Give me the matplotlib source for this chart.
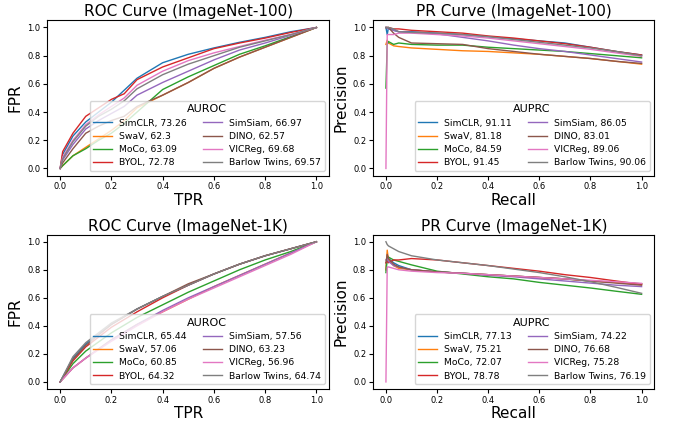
import matplotlib
matplotlib.use('Agg')
import matplotlib.pyplot as plt

methods = ['SimCLR', 'SwaV', 'MoCo', 'BYOL', 'SimSiam', 'DINO', 'VICReg', 'Barlow Twins']
colors = ['tab:blue', 'tab:orange', 'tab:green', 'tab:red', 'tab:purple', 'tab:brown', 'tab:pink', 'tab:gray']

auroc_100 = [73.26, 62.3, 63.09, 72.78, 66.97, 62.57, 69.68, 69.57]
auprc_100 = [91.11, 81.18, 84.59, 91.45, 86.05, 83.01, 89.06, 90.06]
auroc_1k = [65.44, 57.06, 60.85, 64.32, 57.56, 63.23, 56.96, 64.74]
auprc_1k = [77.13, 75.21, 72.07, 78.78, 74.22, 76.68, 75.28, 76.19]

# ROC ImageNet-100
roc100_x = [0, 0.01, 0.05, 0.1, 0.15, 0.2, 0.25, 0.3, 0.4, 0.5, 0.6, 0.7, 0.8, 0.9, 1.0]
roc100_y = [
    [0, 0.10, 0.23, 0.33, 0.40, 0.47, 0.555, 0.64, 0.75, 0.81, 0.855, 0.895, 0.93, 0.97, 1.0],
    [0, 0.02, 0.09, 0.15, 0.21, 0.27, 0.34, 0.43, 0.52, 0.61, 0.71, 0.79, 0.86, 0.93, 1.0],
    [0, 0.02, 0.09, 0.14, 0.20, 0.25, 0.32, 0.40, 0.56, 0.65, 0.73, 0.81, 0.87, 0.935, 1.0],
    [0, 0.12, 0.25, 0.37, 0.43, 0.49, 0.53, 0.63, 0.72, 0.785, 0.85, 0.89, 0.925, 0.965, 1.0],
    [0, 0.06, 0.17, 0.28, 0.34, 0.39, 0.44, 0.52, 0.61, 0.69, 0.77, 0.84, 0.89, 0.945, 1.0],
    [0, 0.04, 0.14, 0.25, 0.30, 0.34, 0.37, 0.44, 0.52, 0.61, 0.71, 0.79, 0.86, 0.93, 1.0],
    [0, 0.08, 0.20, 0.31, 0.38, 0.44, 0.50, 0.59, 0.69, 0.765, 0.82, 0.865, 0.91, 0.95, 1.0],
    [0, 0.07, 0.19, 0.30, 0.37, 0.42, 0.48, 0.565, 0.665, 0.74, 0.80, 0.86, 0.905, 0.95, 1.0],
]

# PR ImageNet-100
pr100_x = [0, 0.005, 0.01, 0.03, 0.05, 0.1, 0.2, 0.3, 0.4, 0.5, 0.6, 0.7, 0.8, 0.9, 1.0]
pr100_y = [
    [1.0, 0.95, 1.0, 0.98, 0.97, 0.97, 0.96, 0.95, 0.935, 0.92, 0.905, 0.89, 0.86, 0.83, 0.805],
    [0.88, 0.91, 0.89, 0.87, 0.865, 0.855, 0.845, 0.835, 0.83, 0.82, 0.81, 0.795, 0.78, 0.76, 0.74],
    [0.57, 0.88, 0.9, 0.88, 0.89, 0.88, 0.875, 0.875, 0.86, 0.85, 0.84, 0.83, 0.815, 0.80, 0.785],
    [1.0, 1.0, 1.0, 0.99, 0.99, 0.98, 0.97, 0.96, 0.94, 0.925, 0.905, 0.885, 0.86, 0.83, 0.805],
    [1.0, 1.0, 0.99, 0.98, 0.97, 0.965, 0.955, 0.93, 0.905, 0.875, 0.85, 0.83, 0.805, 0.78, 0.755],
    [1.0, 1.0, 1.0, 0.96, 0.93, 0.89, 0.885, 0.88, 0.85, 0.83, 0.81, 0.795, 0.78, 0.76, 0.745],
    [0.0, 0.95, 0.95, 0.95, 0.96, 0.96, 0.95, 0.94, 0.925, 0.905, 0.885, 0.865, 0.845, 0.82, 0.795],
    [1.0, 1.0, 1.0, 0.99, 0.97, 0.965, 0.96, 0.95, 0.935, 0.915, 0.895, 0.875, 0.855, 0.83, 0.80],
]

# ROC ImageNet-1K
roc1k_x = [0, 0.05, 0.1, 0.2, 0.3, 0.4, 0.5, 0.6, 0.7, 0.8, 0.9, 1.0]
roc1k_y = [
    [0, 0.17, 0.27, 0.41, 0.52, 0.61, 0.69, 0.77, 0.84, 0.9, 0.95, 1.0],
    [0, 0.1, 0.17, 0.3, 0.41, 0.5, 0.59, 0.68, 0.76, 0.84, 0.92, 1.0],
    [0, 0.13, 0.22, 0.35, 0.46, 0.55, 0.64, 0.72, 0.8, 0.87, 0.93, 1.0],
    [0, 0.15, 0.25, 0.39, 0.5, 0.6, 0.69, 0.77, 0.84, 0.9, 0.95, 1.0],
    [0, 0.1, 0.17, 0.3, 0.41, 0.51, 0.6, 0.68, 0.76, 0.84, 0.92, 1.0],
    [0, 0.16, 0.26, 0.41, 0.52, 0.61, 0.7, 0.77, 0.84, 0.9, 0.95, 1.0],
    [0, 0.1, 0.17, 0.29, 0.4, 0.5, 0.59, 0.67, 0.75, 0.83, 0.91, 1.0],
    [0, 0.18, 0.28, 0.42, 0.52, 0.61, 0.69, 0.77, 0.84, 0.9, 0.95, 1.0],
]

# PR ImageNet-1K
pr1k_x = [0, 0.005, 0.01, 0.03, 0.05, 0.1, 0.2, 0.3, 0.4, 0.5, 0.6, 0.7, 0.8, 0.9, 1.0]
pr1k_y = [
    [0.8, 0.9, 0.88, 0.85, 0.83, 0.8, 0.785, 0.775, 0.765, 0.755, 0.745, 0.735, 0.72, 0.71, 0.70],
    [0.8, 0.94, 0.87, 0.83, 0.81, 0.8, 0.785, 0.775, 0.765, 0.755, 0.745, 0.735, 0.72, 0.71, 0.70],
    [0.78, 0.88, 0.89, 0.87, 0.86, 0.835, 0.79, 0.77, 0.75, 0.735, 0.71, 0.69, 0.67, 0.647, 0.625],
    [0.85, 0.86, 0.85, 0.87, 0.87, 0.88, 0.87, 0.85, 0.83, 0.81, 0.79, 0.765, 0.745, 0.72, 0.696],
    [0.87, 0.88, 0.86, 0.83, 0.82, 0.8, 0.785, 0.775, 0.76, 0.75, 0.735, 0.72, 0.705, 0.69, 0.68],
    [0.85, 0.91, 0.88, 0.84, 0.82, 0.8, 0.785, 0.775, 0.765, 0.755, 0.745, 0.735, 0.72, 0.705, 0.69],
    [0.0, 0.82, 0.82, 0.81, 0.80, 0.79, 0.78, 0.775, 0.765, 0.755, 0.745, 0.735, 0.725, 0.715, 0.703],
    [1.0, 0.98, 0.97, 0.95, 0.93, 0.90, 0.87, 0.85, 0.83, 0.805, 0.78, 0.75, 0.715, 0.675, 0.632],
]

panels = [
    (roc100_x, roc100_y, auroc_100, 'ROC Curve (ImageNet-100)', 'TPR', 'FPR', 'AUROC'),
    (pr100_x, pr100_y, auprc_100, 'PR Curve (ImageNet-100)', 'Recall', 'Precision', 'AUPRC'),
    (roc1k_x, roc1k_y, auroc_1k, 'ROC Curve (ImageNet-1K)', 'TPR', 'FPR', 'AUROC'),
    (pr1k_x, pr1k_y, auprc_1k, 'PR Curve (ImageNet-1K)', 'Recall', 'Precision', 'AUPRC'),
]

positions = [
    [0.070, 0.588, 0.417, 0.364],
    [0.552, 0.588, 0.416, 0.364],
    [0.070, 0.087, 0.417, 0.362],
    [0.552, 0.087, 0.416, 0.362],
]

fig = plt.figure(figsize=(6.76, 4.26), dpi=100)

for pos, (xs, ys, scores, title, xlab, ylab, ltitle) in zip(positions, panels):
    ax = fig.add_axes(pos)
    for name, c, y, s in zip(methods, colors, ys, scores):
        ax.plot(xs, y, color=c, lw=1, label=f'{name}, {s}')
    ax.set_title(title, fontsize=11, pad=3)
    ax.set_xlabel(xlab, fontsize=11, labelpad=1)
    ax.set_ylabel(ylab, fontsize=11, labelpad=3)
    ax.tick_params(labelsize=6, length=3, pad=2)
    ax.set_xticks([0, 0.2, 0.4, 0.6, 0.8, 1.0])
    ax.set_yticks([0, 0.2, 0.4, 0.6, 0.8, 1.0])
    ax.legend(loc='lower right', ncol=2, title=ltitle, fontsize=6.7,
              title_fontsize=8, handlelength=2.0, handletextpad=0.75,
              labelspacing=0.45, columnspacing=1.8, borderpad=0.4)

fig.savefig('out.png', dpi=100)
